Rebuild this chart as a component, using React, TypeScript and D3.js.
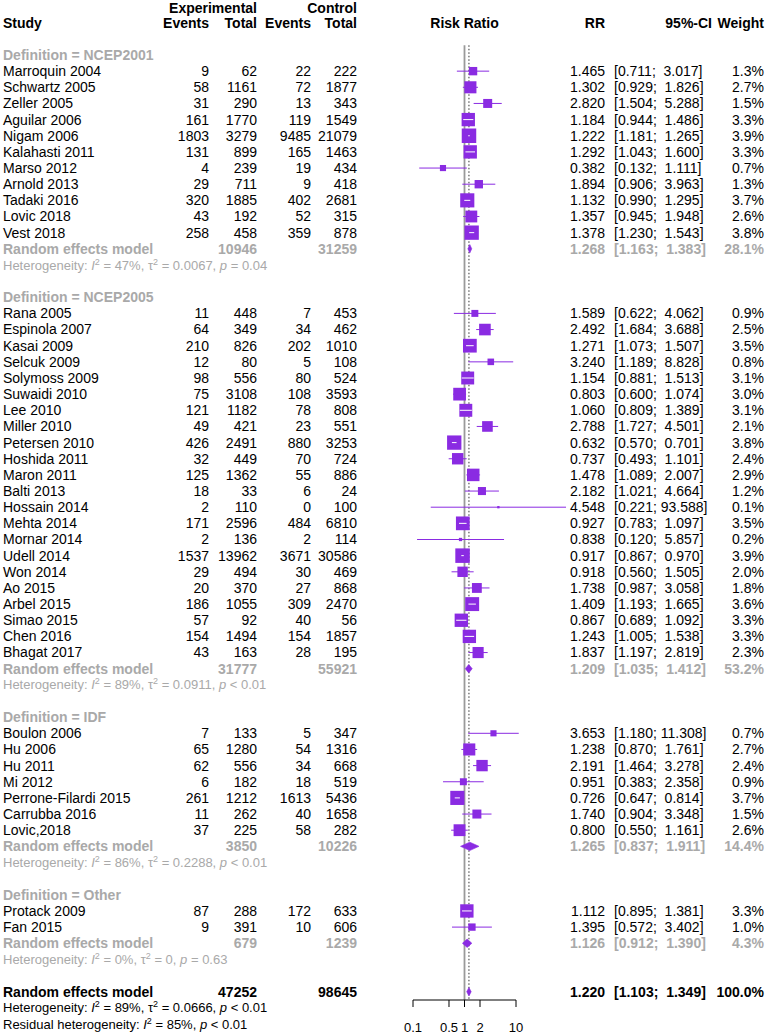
import React from "react"
import * as d3 from "d3"

// ---- data ----
const groups = ["NCEP2001", "NCEP2005", "IDF", "Other"]

const studies = [
  "Marroquin 2004", "Schwartz 2005", "Zeller 2005", "Aguilar 2006", "Nigam 2006", "Kalahasti 2011",
  "Marso 2012", "Arnold 2013", "Tadaki 2016", "Lovic 2018", "Vest 2018",
  "Rana 2005", "Espinola 2007", "Kasai 2009", "Selcuk 2009", "Solymoss 2009", "Suwaidi 2010",
  "Lee 2010", "Miller 2010", "Petersen 2010", "Hoshida 2011", "Maron 2011", "Balti 2013",
  "Hossain 2014", "Mehta 2014", "Mornar 2014", "Udell 2014", "Won 2014", "Ao 2015",
  "Arbel 2015", "Simao 2015", "Chen 2016", "Bhagat 2017",
  "Boulon 2006", "Hu 2006", "Hu 2011", "Mi 2012", "Perrone-Filardi 2015", "Carrubba 2016", "Lovic,2018",
  "Protack 2009", "Fan 2015",
]
const studyGroup = [
  0, 0, 0, 0, 0, 0, 0, 0, 0, 0, 0,
  1, 1, 1, 1, 1, 1, 1, 1, 1, 1, 1, 1, 1, 1, 1, 1, 1, 1, 1, 1, 1, 1,
  2, 2, 2, 2, 2, 2, 2,
  3, 3,
]
const expEvents = [
  9, 58, 31, 161, 1803, 131, 4, 29, 320, 43, 258,
  11, 64, 210, 12, 98, 75, 121, 49, 426, 32, 125, 18, 2, 171, 2, 1537, 29, 20, 186, 57, 154, 43,
  7, 65, 62, 6, 261, 11, 37,
  87, 9,
]
const expTotal = [
  62, 1161, 290, 1770, 3279, 899, 239, 711, 1885, 192, 458,
  448, 349, 826, 80, 556, 3108, 1182, 421, 2491, 449, 1362, 33, 110, 2596, 136, 13962, 494, 370, 1055, 92, 1494, 163,
  133, 1280, 556, 182, 1212, 262, 225,
  288, 391,
]
const ctrlEvents = [
  22, 72, 13, 119, 9485, 165, 19, 9, 402, 52, 359,
  7, 34, 202, 5, 80, 108, 78, 23, 880, 70, 55, 6, 0, 484, 2, 3671, 30, 27, 309, 40, 154, 28,
  5, 54, 34, 18, 1613, 40, 58,
  172, 10,
]
const ctrlTotal = [
  222, 1877, 343, 1549, 21079, 1463, 434, 418, 2681, 315, 878,
  453, 462, 1010, 108, 524, 3593, 808, 551, 3253, 724, 886, 24, 100, 6810, 114, 30586, 469, 868, 2470, 56, 1857, 195,
  347, 1316, 668, 519, 5436, 1658, 282,
  633, 606,
]
const rr = [
  1.465, 1.302, 2.82, 1.184, 1.222, 1.292, 0.382, 1.894, 1.132, 1.357, 1.378,
  1.589, 2.492, 1.271, 3.24, 1.154, 0.803, 1.06, 2.788, 0.632, 0.737, 1.478, 2.182, 4.548, 0.927, 0.838, 0.917, 0.918, 1.738, 1.409, 0.867, 1.243, 1.837,
  3.653, 1.238, 2.191, 0.951, 0.726, 1.74, 0.8,
  1.112, 1.395,
]
const lower = [
  0.711, 0.929, 1.504, 0.944, 1.181, 1.043, 0.132, 0.906, 0.99, 0.945, 1.23,
  0.622, 1.684, 1.073, 1.189, 0.881, 0.6, 0.809, 1.727, 0.57, 0.493, 1.089, 1.021, 0.221, 0.783, 0.12, 0.867, 0.56, 0.987, 1.193, 0.689, 1.005, 1.197,
  1.18, 0.87, 1.464, 0.383, 0.647, 0.904, 0.55,
  0.895, 0.572,
]
const upper = [
  3.017, 1.826, 5.288, 1.486, 1.265, 1.6, 1.111, 3.963, 1.295, 1.948, 1.543,
  4.062, 3.688, 1.507, 8.828, 1.513, 1.074, 1.389, 4.501, 0.701, 1.101, 2.007, 4.664, 93.588, 1.097, 5.857, 0.97, 1.505, 3.058, 1.665, 1.092, 1.538, 2.819,
  11.308, 1.761, 3.278, 2.358, 0.814, 3.348, 1.161,
  1.381, 3.402,
]
const weight = [
  1.3, 2.7, 1.5, 3.3, 3.9, 3.3, 0.7, 1.3, 3.7, 2.6, 3.8,
  0.9, 2.5, 3.5, 0.8, 3.1, 3.0, 3.1, 2.1, 3.8, 2.4, 2.9, 1.2, 0.1, 3.5, 0.2, 3.9, 2.0, 1.8, 3.6, 3.3, 3.3, 2.3,
  0.7, 2.7, 2.4, 0.9, 3.7, 1.5, 2.6,
  3.3, 1.0,
]

// subgroup random effects models
const subExpTotal = [10946, 31777, 3850, 679]
const subCtrlTotal = [31259, 55921, 10226, 1239]
const subRR = [1.268, 1.209, 1.265, 1.126]
const subLower = [1.163, 1.035, 0.837, 0.912]
const subUpper = [1.383, 1.412, 1.911, 1.39]
const subWeight = [28.1, 53.2, 14.4, 4.3]
const subI2 = ["47%", "89%", "86%", "0%"]
const subTau2 = ["0.0067", "0.0911", "0.2288", "0"]
const subP = ["= 0.04", "< 0.01", "< 0.01", "= 0.63"]

// overall
const totExp = 47252
const totCtrl = 98645
const totRR = 1.22
const totLower = 1.103
const totUpper = 1.349
const totI2 = "89%"
const totTau2 = "0.0666"
const totP = "< 0.01"
const residI2 = "85%"
const residP = "< 0.01"

const axisTicks = [0.1, 0.5, 1, 2, 10]

// ---- layout ----
const W = 767
const H = 1035
const FONT = "'Liberation Sans', Arial, Helvetica, sans-serif"
const FS = 14
const FS_HET = 13
const PURPLE = "#8a2be2"
const GREY = "#a9a9a9"

const ROW0 = 55
const ROWH = 16.15
const rowY = (i: number) => ROW0 + i * ROWH

const xStudy = 3
const xExpEv = 209
const xExpTot = 257
const xCtrlEv = 311
const xCtrlTot = 357
const xRR = 605
const xCI = 614
const xWeight = 764
const axisY = 1000

const x = d3.scaleLog().domain([0.1, 10]).range([413, 516])
const boxSize = d3.scaleSqrt().domain([0, 3.9]).range([0, 14.5])

const upWidth = d3.max(upper.concat(subUpper, [totUpper]), (u) => u.toFixed(3).length) || 5
const fmtCI = (lo: number, up: number) => {
  const u = up.toFixed(3)
  return `[${lo.toFixed(3)}; ${" ".repeat(upWidth - u.length)}${u}]`
}

function Het({ y, label, i2, tau2, p, color }: any) {
  return (
    <text x={xStudy} y={y} dy="0.35em" fill={color} fontSize={FS_HET} style={{ whiteSpace: "pre" }}>
      {label}
      <tspan fontStyle="italic">I</tspan>
      <tspan dy={-5} fontSize={9}>2</tspan>
      <tspan dy={5}>{` = ${i2}, `}</tspan>
      {tau2 !== null && (
        <>
          <tspan>τ</tspan>
          <tspan dy={-5} fontSize={9}>2</tspan>
          <tspan dy={5}>{` = ${tau2}, `}</tspan>
        </>
      )}
      <tspan fontStyle="italic">p</tspan>
      <tspan>{` ${p}`}</tspan>
    </text>
  )
}

function Diamond({ y, lo, est, up }: any) {
  const h = 4.2
  const pts = [
    [x(lo), y],
    [x(est), y - h],
    [x(up), y],
    [x(est), y + h],
  ]
  return <polygon points={pts.map((p) => p.join(",")).join(" ")} fill={PURPLE} stroke={PURPLE} strokeWidth={0.6} />
}

export default function App() {
  const text: any[] = []
  const marks: any[] = []
  let row = 0
  let key = 0

  const num = (v: any, xPos: number, y: number, opts: any = {}) =>
    text.push(
      <text key={key++} x={xPos} y={y} dy="0.35em" textAnchor="end" {...opts}>
        {v}
      </text>
    )

  groups.forEach((g, gi) => {
    const gy = rowY(row)
    text.push(
      <text key={key++} x={xStudy} y={gy} dy="0.35em" fill={GREY} fontWeight="bold">
        {`Definition = ${g}`}
      </text>
    )
    row++
    studies.forEach((s, si) => {
      if (studyGroup[si] !== gi) return
      const y = rowY(row)
      text.push(
        <text key={key++} x={xStudy} y={y} dy="0.35em">
          {s}
        </text>
      )
      num(expEvents[si], xExpEv, y)
      num(expTotal[si], xExpTot, y)
      num(ctrlEvents[si], xCtrlEv, y)
      num(ctrlTotal[si], xCtrlTot, y)
      num(rr[si].toFixed(3), xRR, y)
      text.push(
        <text key={key++} x={xCI} y={y} dy="0.35em" style={{ whiteSpace: "pre" }}>
          {fmtCI(lower[si], upper[si])}
        </text>
      )
      num(`${weight[si].toFixed(1)}%`, xWeight, y)

      const cx = x(rr[si])
      const side = boxSize(weight[si])
      const inside = x(lower[si]) >= cx - side / 2 && x(upper[si]) <= cx + side / 2
      marks.push(
        <g key={key++}>
          <line x1={x(lower[si])} x2={x(upper[si])} y1={y} y2={y} stroke={PURPLE} strokeWidth={1} />
          <rect x={cx - side / 2} y={y - side / 2} width={side} height={side} fill={PURPLE} />
          {inside && (
            <line x1={x(lower[si])} x2={x(upper[si])} y1={y} y2={y} stroke="white" strokeWidth={1} />
          )}
        </g>
      )
      row++
    })
    // subgroup model
    const ry = rowY(row)
    const grey = { fill: GREY, fontWeight: "bold" }
    text.push(
      <text key={key++} x={xStudy} y={ry} dy="0.35em" {...grey}>
        Random effects model
      </text>
    )
    num(subExpTotal[gi], xExpTot, ry, grey)
    num(subCtrlTotal[gi], xCtrlTot, ry, grey)
    num(subRR[gi].toFixed(3), xRR, ry, grey)
    text.push(
      <text key={key++} x={xCI} y={ry} dy="0.35em" style={{ whiteSpace: "pre" }} {...grey}>
        {fmtCI(subLower[gi], subUpper[gi])}
      </text>
    )
    num(`${subWeight[gi].toFixed(1)}%`, xWeight, ry, grey)
    marks.push(<Diamond key={key++} y={ry} lo={subLower[gi]} est={subRR[gi]} up={subUpper[gi]} />)
    row++
    text.push(
      <Het key={key++} y={rowY(row)} label="Heterogeneity: " i2={subI2[gi]} tau2={subTau2[gi]} p={subP[gi]} color={GREY} />
    )
    row += 2
  })

  // overall
  const oy = rowY(row)
  const bold = { fontWeight: "bold" }
  text.push(
    <text key={key++} x={xStudy} y={oy} dy="0.35em" {...bold}>
      Random effects model
    </text>
  )
  num(totExp, xExpTot, oy, bold)
  num(totCtrl, xCtrlTot, oy, bold)
  num(totRR.toFixed(3), xRR, oy, bold)
  text.push(
    <text key={key++} x={xCI} y={oy} dy="0.35em" style={{ whiteSpace: "pre" }} {...bold}>
      {fmtCI(totLower, totUpper)}
    </text>
  )
  num("100.0%", xWeight, oy, bold)
  marks.push(<Diamond key={key++} y={oy} lo={totLower} est={totRR} up={totUpper} />)
  text.push(
    <Het key={key++} y={rowY(row + 1)} label="Heterogeneity: " i2={totI2} tau2={totTau2} p={totP} color="black" />
  )
  text.push(
    <Het key={key++} y={rowY(row + 2)} label="Residual heterogeneity: " i2={residI2} tau2={null} p={residP} color="black" />
  )

  const h1 = 8.5
  const h2 = rowY(-2)
  const lineTop = rowY(-0.6)

  return (
    <svg
      width={W}
      height={H}
      style={{ position: "absolute", left: 0, top: 0, background: "white" }}
      fontFamily={FONT}
      fontSize={FS}
    >
      <rect width={W} height={H} fill="white" />
      {/* header */}
      <g fontWeight="bold">
        <text x={xExpTot} y={h1} dy="0.35em" textAnchor="end">Experimental</text>
        <text x={xCtrlTot} y={h1} dy="0.35em" textAnchor="end">Control</text>
        <text x={xStudy} y={h2} dy="0.35em">Study</text>
        <text x={xExpEv} y={h2} dy="0.35em" textAnchor="end">Events</text>
        <text x={xExpTot} y={h2} dy="0.35em" textAnchor="end">Total</text>
        <text x={xCtrlEv} y={h2} dy="0.35em" textAnchor="end">Events</text>
        <text x={xCtrlTot} y={h2} dy="0.35em" textAnchor="end">Total</text>
        <text x={x(1)} y={h2} dy="0.35em" textAnchor="middle">Risk Ratio</text>
        <text x={xRR} y={h2} dy="0.35em" textAnchor="end">RR</text>
        <text x={712} y={h2} dy="0.35em" textAnchor="end">95%-CI</text>
        <text x={xWeight} y={h2} dy="0.35em" textAnchor="end">Weight</text>
      </g>

      {/* reference lines */}
      <line x1={x(1)} x2={x(1)} y1={lineTop} y2={axisY} stroke="#9a9a9a" strokeWidth={1.8} />
      <line x1={x(totRR)} x2={x(totRR)} y1={lineTop} y2={axisY} stroke="#333" strokeWidth={1} strokeDasharray="1.5,2" />

      {marks}
      {text}

      {/* axis */}
      <g>
        <line x1={x(0.1)} x2={x(10)} y1={axisY} y2={axisY} stroke="black" strokeWidth={1} />
        {axisTicks.map((t) => (
          <g key={t}>
            <line x1={x(t)} x2={x(t)} y1={axisY} y2={axisY + 7} stroke="black" strokeWidth={1} />
            <text x={x(t)} y={1027} dy="0.35em" textAnchor="middle" fontSize={13}>
              {t}
            </text>
          </g>
        ))}
      </g>
    </svg>
  )
}
